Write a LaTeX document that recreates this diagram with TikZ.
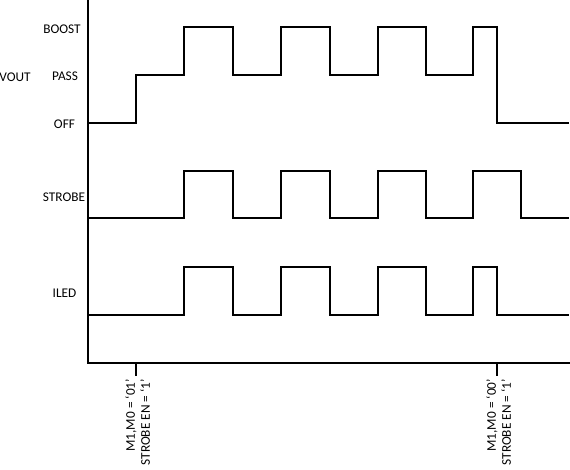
\documentclass[tikz,border=0pt]{standalone}
\usepackage{fontspec}
\setmainfont{Carlito}
\usetikzlibrary{positioning}

\begin{document}
\begin{tikzpicture}[x=1pt,y=-1pt,
  wave/.style={line width=1.3pt},
  lbl/.style={font=\fontsize{13.3}{15}\selectfont,inner sep=0pt},
  mode/.style={lbl,rotate=90,anchor=east,align=right}]
  \useasboundingbox (0,0) rectangle (570,470);
  % axes and ticks
  \draw[wave] (88,0) -- (88,363) -- (570,363);
  \draw[wave] (136,363) -- (136,376);
  \draw[wave] (497,363) -- (497,376);
  % signal names
  \node[lbl] (vout) at (15,77) {VOUT};
  \node[lbl] (boost) at (62,29) {BOOST};
  \node[lbl] (pass) at (65,76) {PASS};
  \node[lbl] (off) at (64.5,124) {OFF};
  \node[lbl] (strobe) at (64,197) {STROBE};
  \node[lbl] (iled) at (64.5,293) {ILED};
  % waveforms
  \draw[wave] (88,123) -| (136,75) -| (184,27) -| (233,75) -| (281,27) -| (330,75)
    -| (378,27) -| (426,75) -| (473,27) -| (497,123) -- (569,123);
  \draw[wave] (88,218) -| (184,171) -| (233,218) -| (281,171) -| (330,218)
    -| (378,171) -| (426,218) -| (473,171) -| (521,218) -- (569,218);
  \draw[wave] (88,315) -| (184,267) -| (233,315) -| (281,267) -| (330,315)
    -| (378,267) -| (426,315) -| (473,267) -| (497,315) -- (569,315);
  % mode changes
  \node[mode] (mode1) at (137.5,379) {M1,M0 = `01'\\STROBE EN = `1'};
  \node[mode] (mode0) at (498.5,379) {M1,M0 = `00'\\STROBE EN = `1'};
\end{tikzpicture}
\end{document}
